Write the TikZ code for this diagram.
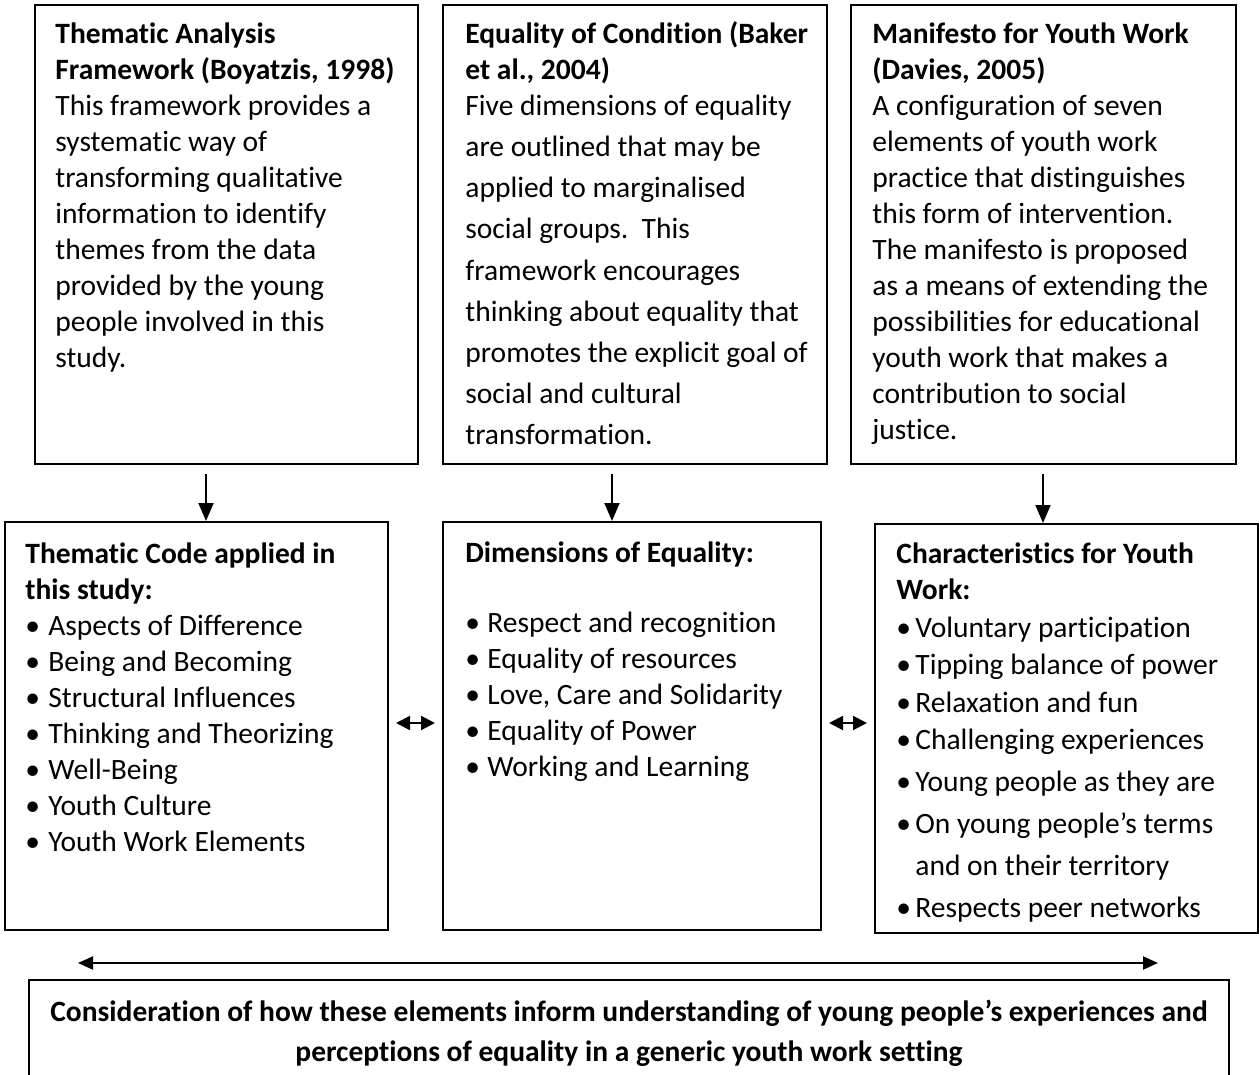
\documentclass[tikz,border=0pt]{standalone}
\usepackage{fontspec}
\setmainfont[RawFeature={-liga;-clig;-rlig;-dlig;-calt;-ccmp}]{Carlito}
\usetikzlibrary{arrows.meta,fit}
\tikzset{
  box/.style={draw, line width=1pt, inner sep=0pt},
  txt/.style={anchor=north west, inner sep=0pt, align=left, font=\fontsize{14.75pt}{18pt}\selectfont},
  txtwide/.style={txt, font=\fontsize{14.75pt}{20.6pt}\selectfont},
  arr/.style={-{Triangle[length=9pt,width=7.5pt]}, line width=1pt},
  darr/.style={{Triangle[length=7pt,width=7pt]}-{Triangle[length=7pt,width=7pt]}, line width=1pt},
  larr/.style={{Triangle[length=7.5pt,width=6.5pt]}-{Triangle[length=7.5pt,width=6.5pt]}, line width=1pt}
}
\newcommand{\bul}{\makebox[11.5pt][l]{•}}
\newcommand{\bulb}{\makebox[11pt][l]{•}}
\newcommand{\bulc}{\makebox[9.5pt][l]{•}}
\begin{document}
\begin{tikzpicture}[x=0.5pt, y=-0.5pt]
\useasboundingbox (0,0) rectangle (1259,1075);

% top row
\node[box, fit={(35,5) (418,464)}] (tak) {};
\node[box, fit={(443,5) (827,464)}] (eoc) {};
\node[box, fit={(851,5) (1236,464)}] (myw) {};

\node[txt] (takt) at (55,17.5) {\strut\textbf{Thematic Analysis}\\
\textbf{Framework (Boyatzis, 1998)}\\
This framework provides a\\
systematic way of\\
transforming qualitative\\
information to identify\\
themes from the data\\
provided by the young\\
people involved in this\\
study.};

\node[txt] (eoct) at (465,17.5) {\strut\textbf{Equality of Condition (Baker}\\
\textbf{et al., 2004)}};
\node[txtwide] (eocb) at (465,86) {\strut Five dimensions of equality\\
are outlined that may be\\
applied to marginalised\\
social groups.\ \ This\\
framework encourages\\
thinking about equality that\\
promotes the explicit goal of\\
social and cultural\\
transformation.};

\node[txt] (mywt) at (872,17.5) {\strut\textbf{Manifesto for Youth Work}\\
\textbf{(Davies, 2005)}\\
A configuration of seven\\
elements of youth work\\
practice that distinguishes\\
this form of intervention.\\
The manifesto is proposed\\
as a means of extending the\\
possibilities for educational\\
youth work that makes a\\
contribution to social\\
justice.};

% bottom row
\node[box, fit={(5,522) (388,930)}] (tcode) {};
\node[box, fit={(443,522) (821,930)}] (dims) {};
\node[box, fit={(875,524) (1258,933)}] (chars) {};

\node[txt] (tcodet) at (25,538) {\strut\textbf{Thematic Code applied in}\\
\textbf{this study:}\\
\bul Aspects of Difference\\
\bul Being and Becoming\\
\bul Structural Influences\\
\bul Thinking and Theorizing\\
\bul Well-Being\\
\bul Youth Culture\\
\bul Youth Work Elements};

\node[txt] (dimst) at (465,537) {\strut\textbf{Dimensions of Equality:}\\[17pt]
\bulb Respect and recognition\\
\bulb Equality of resources\\
\bulb Love, Care and Solidarity\\
\bulb Equality of Power\\
\bulb Working and Learning};

\node[txt] (charst) at (896,537.5) {\strut\textbf{Characteristics for Youth}\\
\textbf{Work:}};
\node[txt, font=\fontsize{14.75pt}{18.75pt}\selectfont] (charsb) at (896,610.5) {\strut\bulc Voluntary participation\\
\bulc Tipping balance of power\\
\bulc Relaxation and fun\\
\bulc Challenging experiences\\[2.25pt]
\bulc Young people as they are\\[2.25pt]
\bulc On young people’s terms\\[2.25pt]
\hspace*{9.5pt}and on their territory\\[2.25pt]
\bulc Respects peer networks};

% conclusion
\node[box, fit={(29,980) (1229,1085)}] (concl) {};
\node[txt, anchor=north, align=center, font=\fontsize{14.75pt}{19.8pt}\selectfont] (conclt) at (629,993.5) {\strut\textbf{Consideration of how these elements inform understanding of young people’s experiences and}\\
\textbf{perceptions of equality in a generic youth work setting}};

% arrows
\draw[arr] ([yshift=-4.5pt]tak.south -| 206,0) -- (tcode.north -| 206,0);
\draw[arr] ([yshift=-4.5pt]eoc.south -| 612,0) -- (dims.north -| 612,0);
\draw[arr] ([yshift=-4.5pt]myw.south -| 1043,0) -- (chars.north -| 1043,0);
\draw[darr] ([xshift=3.5pt]tcode.east |- 0,723) -- ([xshift=-3.5pt]dims.west |- 0,723);
\draw[darr] ([xshift=3.5pt]dims.east |- 0,723) -- ([xshift=-3.5pt]chars.west |- 0,723);
\coordinate (lend) at (78,963);
\coordinate (rend) at (1158,963);
\draw[larr] (lend) -- (rend);
\end{tikzpicture}
\end{document}
